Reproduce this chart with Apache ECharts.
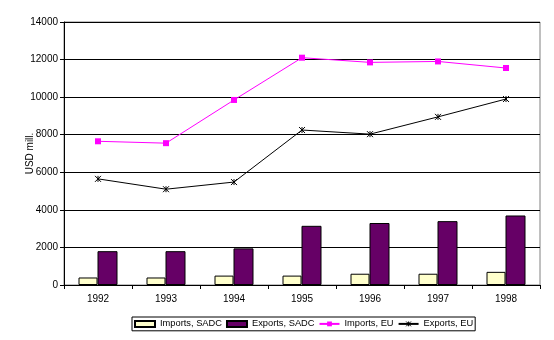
<!DOCTYPE html>
<html><head><meta charset="utf-8">
<script src="https://cdn.jsdelivr.net/npm/echarts@6/dist/echarts.min.js"></script>
<style>html,body{margin:0;padding:0;background:#fff}#c{width:554px;height:340px}</style>
</head><body><div id="c"></div>
<script>
const years = ['1992','1993','1994','1995','1996','1997','1998'];
const importsSADC = [400, 400, 500, 500, 600, 600, 700];
const exportsSADC = [1800, 1800, 1950, 3150, 3300, 3400, 3700];
const importsEU = [7650, 7550, 9850, 12100, 11850, 11900, 11550];
const exportsEU = [5650, 5100, 5480, 8250, 8030, 8950, 9900];
const yTicks = {min: 0, max: 14000, interval: 2000};

const font = 'Liberation Sans, Arial, sans-serif';
const star = 'path://M0,0L10,10M10,0L0,10M5,0L5,10';
const chart = echarts.init(document.getElementById('c'), null, {renderer: 'canvas'});
chart.setOption({
  animation: false,
  backgroundColor: '#fff',
  grid: {left: 64, right: 14, top: 22, bottom: 55, show: true, borderColor: '#808080', borderWidth: 1, backgroundColor: '#fff'},
  legend: {
    left: 132, top: 317,
    padding: [2, 2, 2, 2], itemGap: 4, itemWidth: 20, itemHeight: 6,
    borderColor: '#000', borderWidth: 1,
    textStyle: {fontFamily: font, fontSize: 9.3, color: '#000'},
    data: [
      {name: 'Imports, SADC', icon: 'rect'},
      {name: 'Exports, SADC', icon: 'rect'},
      {name: 'Imports, EU'},
      {name: 'Exports, EU', itemStyle: {color: 'none', borderColor: '#000', borderWidth: 1}}
    ]
  },
  xAxis: {
    type: 'category', data: years, boundaryGap: true,
    axisLine: {lineStyle: {color: '#000', width: 1}},
    axisTick: {show: true, length: 4, lineStyle: {color: '#000'}},
    axisLabel: {fontFamily: font, fontSize: 10, color: '#000', margin: 9}
  },
  yAxis: {
    type: 'value', min: yTicks.min, max: yTicks.max, interval: yTicks.interval,
    name: 'USD mill.', nameLocation: 'middle', nameGap: 29, nameRotate: 90, nameMoveOverlap: false,
    nameTextStyle: {fontFamily: font, fontSize: 10, color: '#000'},
    axisLine: {show: true, lineStyle: {color: '#000', width: 1}},
    axisTick: {show: true, length: 4, lineStyle: {color: '#000'}},
    axisLabel: {fontFamily: font, fontSize: 10, color: '#000', margin: 6, formatter: v => String(v)},
    splitLine: {show: true, lineStyle: {color: '#000', width: 1}}
  },
  series: [
    {name: 'Imports, SADC', type: 'bar', data: importsSADC, barWidth: 19, barGap: '0%',
     itemStyle: {color: '#FFFFCC', borderColor: '#000', borderWidth: 1}},
    {name: 'Exports, SADC', type: 'bar', data: exportsSADC, barWidth: 20, barGap: '0%',
     itemStyle: {color: '#660066', borderColor: '#000', borderWidth: 1}},
    {name: 'Imports, EU', type: 'line', data: importsEU, symbol: 'rect', symbolSize: 6,
     lineStyle: {color: '#FF00FF', width: 1}, itemStyle: {color: '#FF00FF'}},
    {name: 'Exports, EU', type: 'line', data: exportsEU, symbol: star, symbolSize: 6,
     lineStyle: {color: '#000', width: 1}, itemStyle: {color: 'none', borderColor: '#000', borderWidth: 1}}
  ]
});
</script></body></html>
